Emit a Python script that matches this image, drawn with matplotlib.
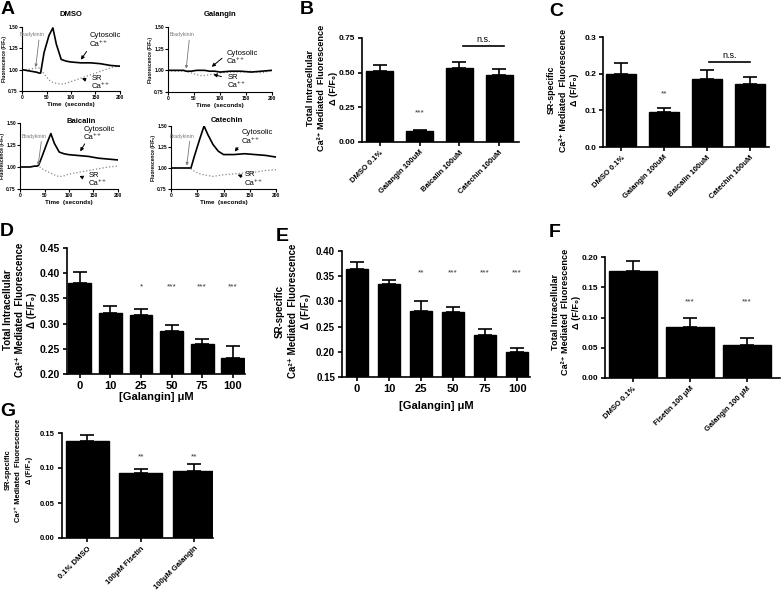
import matplotlib
matplotlib.use("Agg")
import matplotlib.pyplot as plt
import numpy as np

plt.rcParams['font.family'] = ['Liberation Sans', 'DejaVu Sans']

# ---- panel A traces ----
t = [0, 10, 20, 30, 35, 38, 45, 55, 63, 70, 80, 90, 100, 120, 140, 160, 180, 200]
dmso_cyt = [1.00, 0.99, 0.98, 0.97, 0.96, 0.96, 1.20, 1.40, 1.49, 1.30, 1.12, 1.10, 1.09, 1.08, 1.08, 1.07, 1.05, 1.04]
dmso_sr = [1.00, 1.00, 1.01, 1.02, 1.02, 1.01, 0.95, 0.88, 0.85, 0.84, 0.83, 0.84, 0.86, 0.90, 0.94, 0.98, 1.02, 1.05]
gal_cyt = [1.00, 1.00, 1.00, 1.00, 0.99, 0.99, 0.99, 1.00, 1.00, 1.00, 0.99, 0.99, 0.98, 0.99, 0.99, 0.98, 0.99, 1.00]
gal_sr = [1.00, 0.99, 0.99, 0.99, 0.99, 0.98, 0.97, 0.95, 0.94, 0.94, 0.95, 0.96, 0.97, 0.98, 0.98, 0.99, 0.97, 1.00]
bai_cyt = [1.00, 1.00, 1.00, 1.01, 1.01, 1.02, 1.12, 1.27, 1.38, 1.27, 1.17, 1.15, 1.14, 1.13, 1.12, 1.10, 1.09, 1.08]
bai_sr = [1.00, 1.00, 1.00, 1.01, 1.01, 1.01, 0.98, 0.95, 0.93, 0.91, 0.89, 0.90, 0.92, 0.94, 0.96, 0.98, 1.00, 1.01]
cat_cyt = [1.00, 1.00, 1.00, 1.00, 1.00, 1.00, 1.15, 1.35, 1.50, 1.40, 1.28, 1.20, 1.16, 1.16, 1.17, 1.16, 1.15, 1.13]
cat_sr = [1.00, 1.00, 1.00, 1.00, 1.00, 0.99, 0.96, 0.93, 0.92, 0.91, 0.90, 0.91, 0.92, 0.93, 0.94, 0.95, 0.97, 0.98]

# ---- bar panels ----
b_labels = ['DMSO 0.1%', 'Galangin 100uM', 'Baicalin 100uM', 'Catechin 100uM']
b_means = [0.51, 0.08, 0.535, 0.485]
b_errs = [0.045, 0.01, 0.04, 0.04]
c_means = [0.20, 0.096, 0.186, 0.171]
c_errs = [0.03, 0.011, 0.025, 0.021]

dose_labels = ['0', '10', '25', '50', '75', '100']
d_means = [0.380, 0.322, 0.318, 0.286, 0.260, 0.231]
d_errs = [0.022, 0.012, 0.011, 0.012, 0.009, 0.025]
e_means = [0.365, 0.334, 0.280, 0.279, 0.233, 0.199]
e_errs = [0.013, 0.008, 0.020, 0.009, 0.012, 0.008]

f_labels = ['DMSO 0.1%', 'Fisetin 100 μM', 'Galangin 100 μM']
f_means = [0.177, 0.085, 0.054]
f_errs = [0.016, 0.015, 0.012]
g_labels = ['0.1% DMSO', '100μM Fisetin', '100μM Galangin']
g_means = [0.138, 0.093, 0.096]
g_errs = [0.009, 0.005, 0.010]

W, H = 781, 594
fig = plt.figure(figsize=(W / 100, H / 100), dpi=100)


def px_axes(x0, y0, x1, y1):
    return fig.add_axes([x0 / W, 1 - y1 / H, (x1 - x0) / W, (y1 - y0) / H])


def style(ax, lw=1.2, tl=3):
    ax.spines['top'].set_visible(False)
    ax.spines['right'].set_visible(False)
    ax.spines['left'].set_linewidth(lw)
    ax.spines['bottom'].set_linewidth(lw)
    ax.tick_params(direction='out', length=tl, width=lw)


def trace_panel(rect, cyt, sr, title, title_pos, brady, cyt_txt, cyt_arrow, sr_txt, sr_arrow):
    ax = px_axes(*rect)
    ax.plot(t, sr, ':', color='#888888', lw=0.9)
    ax.plot(t, cyt, '-', color='black', lw=1.2)
    ax.set_xlim(0, 200)
    ax.set_ylim(0.75, 1.5)
    ax.set_xticks([0, 50, 100, 150, 200])
    ax.set_yticks([0.75, 1.0, 1.25, 1.5])
    ax.set_yticklabels(['0.75', '1.00', '1.25', '1.50'])
    style(ax, lw=0.8, tl=2)
    ax.tick_params(labelsize=3.5, pad=1)
    for lab in ax.get_xticklabels() + ax.get_yticklabels():
        lab.set_fontweight('bold')
    ax.set_xlabel('Time  (seconds)', fontsize=4.5, fontweight='bold', labelpad=1)
    ax.set_ylabel('Fluorescence (F/F₀)', fontsize=3.5, fontweight='bold', labelpad=1)
    ax.text(title_pos[0], title_pos[1], title, transform=ax.transAxes,
            fontsize=5.5, fontweight='bold', ha='center', va='center')
    ax.annotate('Bradykinin', xy=(brady[0], brady[2]), xytext=(brady[0] - 8, brady[1]),
                fontsize=3.8, color='#777777', ha='center', va='bottom',
                arrowprops=dict(arrowstyle='-|>', color='#777777', lw=0.6, mutation_scale=4,
                                shrinkA=0, shrinkB=0, relpos=(0.8, 0)))
    ax.text(cyt_txt[0], cyt_txt[1], 'Cytosolic\nCa⁺⁺', fontsize=5.5, ha='left', va='center',
            linespacing=1.3)
    ax.annotate('', xy=cyt_arrow[1], xytext=cyt_arrow[0],
                arrowprops=dict(arrowstyle='-|>', color='black', lw=0.7, mutation_scale=5))
    ax.text(sr_txt[0], sr_txt[1], 'SR\nCa⁺⁺', fontsize=5.5, ha='left', va='center',
            linespacing=1.3)
    ax.annotate('', xy=sr_arrow[1], xytext=sr_arrow[0],
                arrowprops=dict(arrowstyle='-|>', color='black', lw=0.7, mutation_scale=5))
    return ax


trace_panel((22, 27, 120, 91), dmso_cyt, dmso_sr, 'DMSO', (0.5, 1.2),
            (28, 1.38, 1.03), (138, 1.35), ((135, 1.24), (117, 1.09)),
            (142, 0.85), ((135, 0.87), (117, 0.91)))
trace_panel((168, 27, 272, 92), gal_cyt, gal_sr, 'Galangin', (0.5, 1.2),
            (35, 1.38, 1.02), (112, 1.15), ((108, 1.16), (80, 1.02)),
            (114, 0.87), ((108, 0.92), (82, 0.96)))
trace_panel((20, 123, 118, 189), bai_cyt, bai_sr, 'Baicalin', (0.62, 1.02),
            (37, 1.32, 1.02), (130, 1.38), ((135, 1.29), (120, 1.15)),
            (140, 0.86), ((133, 0.87), (116, 0.91)))
trace_panel((171, 126, 276, 189), cat_cyt, cat_sr, 'Catechin', (0.53, 1.08),
            (30, 1.35, 1.03), (135, 1.37), ((131, 1.27), (118, 1.17)),
            (141, 0.87), ((140, 0.89), (122, 0.93)))


def bar_panel(rect, means, errs, xlim, width, ylim, yticks, fmt, labels,
              rot=True, lab_size=6, tick_size=7, cap=5):
    ax = px_axes(*rect)
    x = np.arange(len(means))
    ax.bar(x, means, width=width, color='black', edgecolor='black')
    ax.errorbar(x, means, yerr=[np.zeros(len(means)), errs], fmt='none',
                ecolor='black', elinewidth=1.2, capsize=cap, capthick=1.2)
    ax.set_xlim(*xlim)
    ax.set_ylim(*ylim)
    ax.set_yticks(yticks)
    ax.set_yticklabels([fmt % v for v in yticks], fontsize=tick_size, fontweight='bold')
    ax.set_xticks(x)
    if rot:
        ax.set_xticklabels(labels, rotation=45, ha='right', rotation_mode='anchor',
                           fontsize=lab_size, fontweight='bold')
    else:
        ax.set_xticklabels(labels, fontsize=lab_size, fontweight='bold')
    style(ax)
    ax.tick_params(pad=2)
    return ax


def stars(ax, xs, y, s):
    for xi in xs:
        ax.text(xi, y, s, ha='center', va='center', fontsize=6, color='#333333')


def ns_bar(ax, x0, x1, y):
    ax.plot([x0, x1], [y, y], color='black', lw=1.2)
    ax.text((x0 + x1) / 2, y + 0.018 * (ax.get_ylim()[1] - ax.get_ylim()[0]), 'n.s.',
            ha='center', va='bottom', fontsize=6.5)


axB = bar_panel((362, 38, 519, 142), b_means, b_errs, (-0.45, 3.5), 0.68,
                (0, 0.75), [0, 0.25, 0.5, 0.75], '%.2f', b_labels, lab_size=5.5, tick_size=6)
stars(axB, [1], 0.21, '***')
ns_bar(axB, 2.08, 3.12, 0.69)

axC = bar_panel((603, 37, 769, 147), c_means, c_errs, (-0.42, 3.44), 0.7,
                (0, 0.3), [0, 0.1, 0.2, 0.3], '%.1f', b_labels, lab_size=5.5, tick_size=6)
stars(axC, [1], 0.145, '**')
ns_bar(axC, 2.05, 3.0, 0.232)

axD = bar_panel((67, 248, 245, 374), d_means, d_errs, (-0.42, 5.4), 0.75,
                (0.2, 0.45), [0.2, 0.25, 0.3, 0.35, 0.4, 0.45], '%.2f', dose_labels,
                rot=False, lab_size=8, tick_size=7.5)
stars(axD, [2], 0.373, '*')
stars(axD, [3, 4, 5], 0.373, '***')
axD.set_xlabel('[Galangin] μM', fontsize=8, fontweight='bold', labelpad=1)

axE = bar_panel((342, 251, 530, 377), e_means, e_errs, (-0.47, 5.4), 0.69,
                (0.15, 0.40), [0.15, 0.2, 0.25, 0.3, 0.35, 0.4], '%.2f', dose_labels,
                rot=False, lab_size=8, tick_size=7)
stars(axE, [2], 0.357, '**')
stars(axE, [3, 4, 5], 0.357, '***')
axE.set_xlabel('[Galangin] μM', fontsize=8, fontweight='bold', labelpad=5)

axF = bar_panel((605, 257, 780, 378), f_means, f_errs, (-0.49, 2.58), 0.84,
                (0, 0.20), [0, 0.05, 0.1, 0.15, 0.2], '%.2f', f_labels, lab_size=5.5, tick_size=6)
stars(axF, [1, 2], 0.125, '***')

axG = bar_panel((62, 433, 213, 538), g_means, g_errs, (-0.47, 2.35), 0.8,
                (0, 0.15), [0, 0.05, 0.1, 0.15], '%.2f', g_labels, lab_size=5.5, tick_size=5.5)
stars(axG, [1, 2], 0.116, '**')

# y labels
total_lab = 'Total Intracellular\nCa²⁺ Mediated  Fluorescence\nΔ (F/F₀)'
sr_lab = 'SR-specific\nCa²⁺ Mediated  Fluorescence\nΔ (F/F₀)'
for x, y, s, fs, ls in [(322, 88, total_lab, 6.6, 1.3), (563, 90, sr_lab, 6.4, 1.4),
                        (20, 310, total_lab, 7, 1.3), (293, 311, sr_lab, 7, 1.4),
                        (566, 312, total_lab, 6.6, 1.25), (19, 470, sr_lab, 5.4, 1.7)]:
    fig.text(x / W, 1 - y / H, s, rotation=90, ha='center', va='center',
             multialignment='center', fontsize=fs, fontweight='bold', linespacing=ls)

# panel letters
for x, y, s in [(1, 1, 'A'), (300, 1, 'B'), (549, 3, 'C'), (0, 223, 'D'),
                (276, 228, 'E'), (549, 224, 'F'), (0, 403, 'G')]:
    fig.text(x / W, 1 - y / H, s, ha='left', va='top', fontsize=14, fontweight='bold')

fig.savefig('out.png', dpi=100)
